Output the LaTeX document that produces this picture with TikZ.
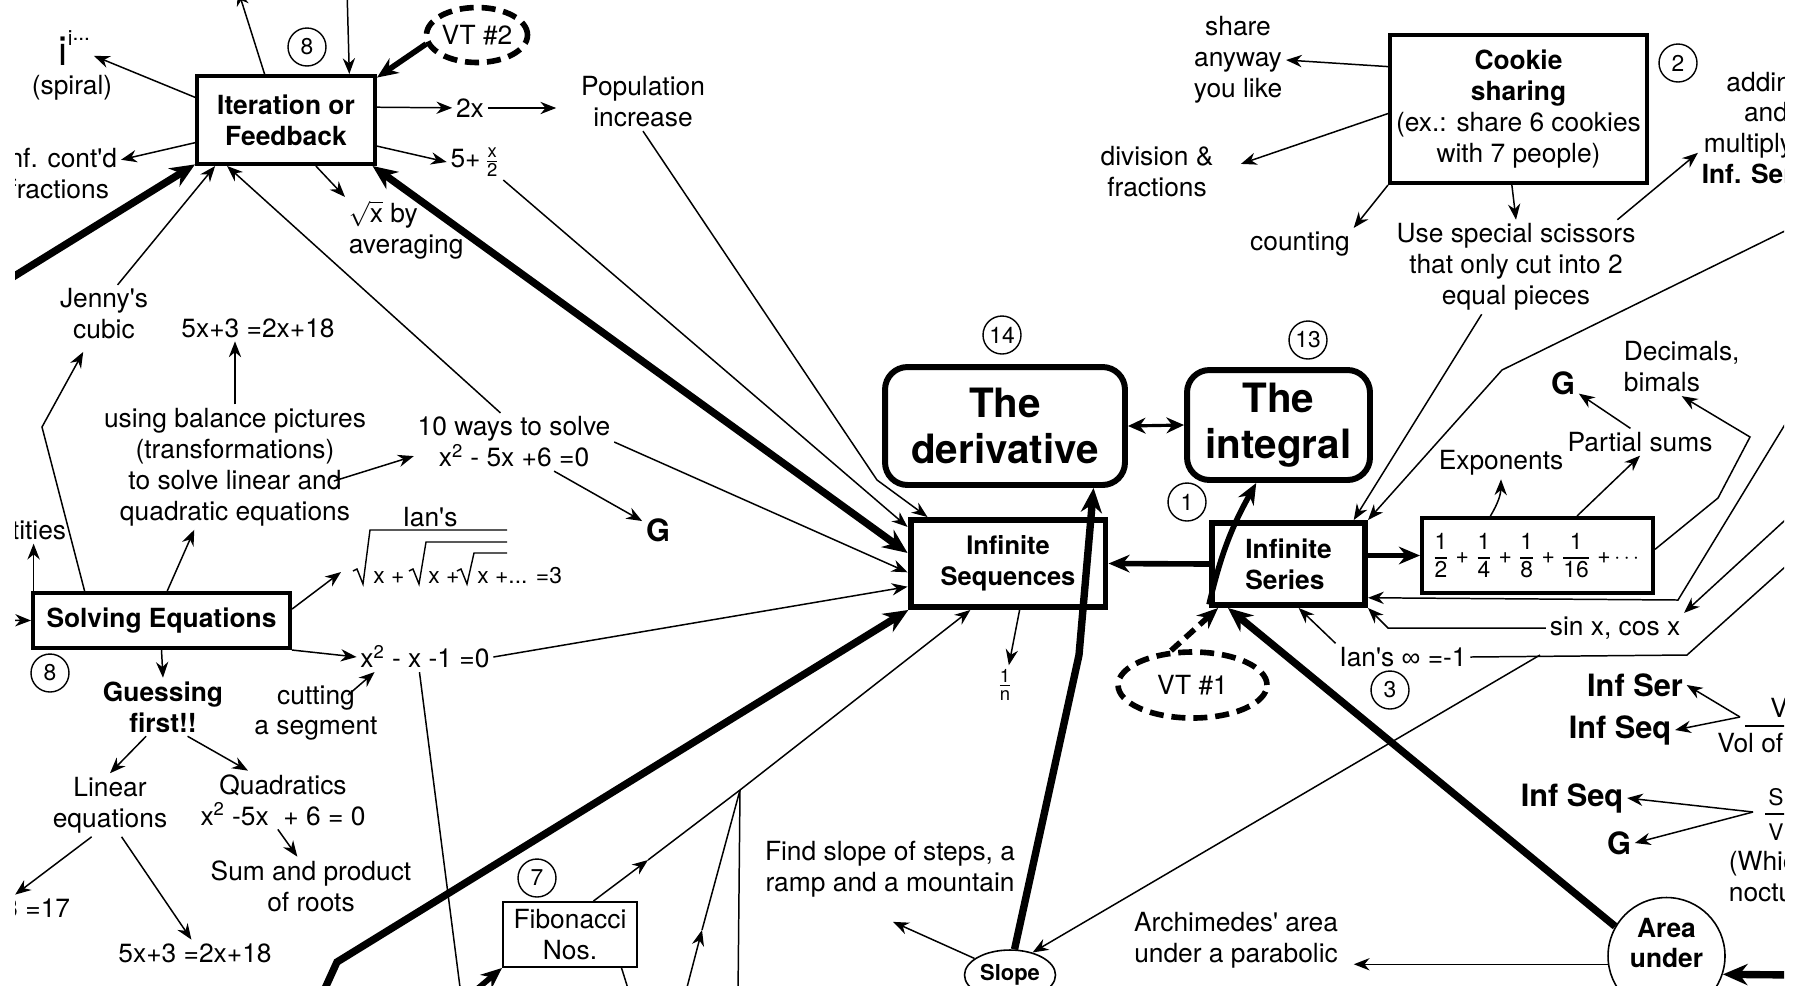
\documentclass[tikz,border=0pt]{standalone}
\usepackage{amsmath}
\usepackage{fontspec}
\setmainfont{TeX Gyre Heros}[Ligatures=TeXOff]
\newfontfamily\glyphs{Liberation Sans}
\usetikzlibrary{arrows.meta,shapes.geometric,calc}
\newcommand{\fsz}{\fontsize{15}{17.6}\selectfont}
\newcommand{\stk}[2]{$\genfrac{}{}{0.6pt}{}{\text{#1}}{\text{#2}}$}
\newcommand{\bigfr}[2]{$\genfrac{}{}{0.6pt}{0}{\text{#1}}{\text{#2}}$}
\begin{document}
\begin{tikzpicture}[x=0.02cm, y=-0.02cm,
  every node/.style={font=\fsz},
  txt/.style={align=center, inner sep=2pt},
  bld/.style={txt, font=\fsz\bfseries},
  big/.style={txt, font=\bfseries\fontsize{17.5}{20}\selectfont},
  rad/.style={inner sep=0pt, font=\fontsize{13}{13}\selectfont},
  box/.style={draw, line width=2.3pt, align=center, inner sep=0pt, font=\fsz\bfseries},
  topic/.style={draw, line width=3.4pt, rounded corners=0.45cm, align=center, inner sep=0pt, font=\bfseries\fontsize{23}{26}\selectfont},
  num/.style={circle, draw, line width=0.8pt, minimum size=0.76cm, inner sep=0pt, font=\fontsize{13}{13}\selectfont},
  vt/.style={ellipse, draw, line width=3.2pt, dash pattern=on 8pt off 4.5pt, inner sep=0pt},
  arr/.style={-{Stealth[length=9pt,width=7pt]}, line width=0.85pt},
  mid/.style={-{Stealth[length=12pt,width=10pt]}, line width=3.2pt},
  fat/.style={-{Stealth[length=14pt,width=12pt]}, line width=4.2pt},
  fatboth/.style={{Stealth[length=14pt,width=12pt]}-{Stealth[length=14pt,width=12pt]}, line width=4.2pt},
  both/.style={{Stealth[length=10pt,width=9pt]}-{Stealth[length=10pt,width=9pt]}, line width=1.8pt}
]
\useasboundingbox (0,0) rectangle (1801,985);
\clip (15,0) rectangle (1784,985);

% Iteration corner
\node[box, minimum width=3.56cm, minimum height=1.76cm] (iter) at (286,120) {Iteration or\\Feedback};
\node[num] (n8a) at (307,47) {8};
\node[vt, minimum width=2.02cm, minimum height=1.1cm] (vt2) at (477,35) {VT \#2};
\node[txt, anchor=base west] (ii) at (55,65) {\fontsize{23}{23}\selectfont i\raisebox{11pt}{\fontsize{12}{12}\selectfont i\raisebox{3pt}{...}}};
\node[txt] (spiral) at (72,88) {(spiral)};
\node[txt, anchor=east] (infcf) at (121,174) {Inf. cont'd\\fractions};
\node[txt] (twox) at (470,108) {2x};
\node[txt] (pop) at (643,102) {Population\\increase};
\node[txt] (fivex) at (475,162) {5+\,\stk{x}{2}};
\node[txt, align=left, anchor=west] (sqrtx) at (345,230) {$\sqrt{\text{x}}$ by\\averaging};

% Solving equations
\node[txt] (jenny) at (104,314) {Jenny's\\cubic};
\node[txt] (eqA) at (258,328) {5x+3 =2x+18};
\node[txt] (balance) at (235,467) {using balance pictures\\(transformations)\\to solve linear and\\quadratic equations};
\node[txt] (tenways) at (514,442) {10 ways to solve\\x\textsuperscript{2} - 5x +6 =0};
\node[big] (gA) at (658,530) {G};
\node[txt, anchor=east] (ident) at (70,530) {Identities};
\node[box, minimum width=5.14cm, minimum height=1.1cm] (solve) at (161.5,620.5) {Solving Equations};
\node[txt] (ians) at (430,517) {Ian's};
\node[rad, anchor=base west] (radA) at (373,583) {x +};
\node[rad, anchor=base west] (radB) at (428,583) {x +};
\node[rad, anchor=base west] (radC) at (477,583) {x +... =3};
\draw[line width=0.8pt] (353,571) -- (357,569) -- (363,584) -- (370,530) -- (507,530);
\draw[line width=0.8pt] (409,571) -- (413,569) -- (419,584) -- (426,542) -- (507,542);
\draw[line width=0.8pt] (457,571) -- (461,569) -- (467,584) -- (474,553) -- (507,553);
\node[txt] (xsq) at (425,657) {x\textsuperscript{2} - x -1 =0};
\node[num] (n8b) at (50,673) {8};
\node[bld] (guess) at (163,707) {Guessing\\first!!};
\node[txt] (cutting) at (316,713) {cutting\\a segment};
\node[txt] (linear) at (110,805) {Linear\\equations};
\node[txt] (quad) at (283,800) {Quadratics\\x\textsuperscript{2} -5x \ + 6 = 0};
\node[txt] (sumprod) at (311,886) {Sum and product\\of roots};
\node[txt, anchor=east] (eqC) at (74,908) {2x+3 =17};
\node[txt] (eqB) at (195,953) {5x+3 =2x+18};
\node[num] (n7) at (537,878) {7};
\node[draw, line width=1.1pt, minimum width=2.68cm, minimum height=1.3cm, align=center, inner sep=0pt] (fib) at (570,934.5) {Fibonacci\\Nos.};

% Centre
\node[topic, minimum width=4.8cm, minimum height=2.36cm] (deriv) at (1005,426) {The\\derivative};
\node[topic, minimum width=3.66cm, minimum height=2.2cm] (integ) at (1278.5,425) {The\\integral};
\node[num] (n14) at (1002,335) {14};
\node[num] (n13) at (1308,340) {13};
\node[num] (n1) at (1187,502) {1};
\node[box, line width=3.4pt, minimum width=3.9cm, minimum height=1.74cm, font=\bfseries\fontsize{14.5}{17.6}\selectfont] (seq) at (1008,563.5) {Infinite\\Sequences};
\node[box, line width=3.4pt, minimum width=3.06cm, minimum height=1.64cm, align=left] (ser) at (1288.5,564) {Infinite\\Series};
\node[txt] (onen) at (1005,685) {\stk{1}{n}};
\node[vt, minimum width=2.98cm, minimum height=1.32cm] (vt1) at (1192.5,685) {VT \#1};
\node[ellipse, draw, line width=0.9pt, minimum width=1.82cm, minimum height=1cm, inner sep=0pt, font=\bfseries\fontsize{12.5}{12.5}\selectfont] (slope) at (1010,975) {Slope};
\node[txt] (findslope) at (890,869) {Find slope of steps, a\\ramp and a mountain};
\node[txt] (archi) at (1236,940) {Archimedes' area\\under a parabolic};
\node[circle, draw, line width=0.9pt, minimum size=2.34cm, inner sep=0pt] (area) at (1666.5,956) {};
\node[bld] (areatxt) at ($(area.center)+(0,-13)$) {Area\\under};

% Cookie corner
\node[txt] (share) at (1238,60) {share\\anyway\\you like};
\node[txt] (divfrac) at (1157,172) {division \&\\fractions};
\node[txt] (counting) at (1300,244) {counting};
\node[draw, line width=2.3pt, minimum width=5.14cm, minimum height=2.96cm, align=center, inner sep=0pt] (cookie) at (1518.5,109) {\textbf{Cookie}\\\textbf{sharing}\\(ex.: share 6 cookies\\with 7 people)};
\node[num] (n2) at (1678,63) {2};
\node[txt] (scissors) at (1516,267) {Use special scissors\\that only cut into 2\\equal pieces};
\node[txt] (adding) at (1766,128) {adding\\and\\multiplying\\\textbf{Inf. Series}};

% Series corner
\node[big] (gB) at (1563,383) {G};
\node[txt, align=left, anchor=west] (decimals) at (1620,367) {Decimals,\\bimals};
\node[txt] (partial) at (1640,442) {Partial sums};
\node[txt] (expo) at (1501,463) {Exponents};
\node[draw, line width=2.3pt, minimum width=4.62cm, minimum height=1.5cm, inner sep=0pt, font=\fontsize{13}{13}\selectfont] (geo) at (1537.5,555.5) {\bigfr{1}{2} + \bigfr{1}{4} + \bigfr{1}{8} + \bigfr{1}{16} +\,$\cdots$};
\node[txt] (sincos) at (1615,628) {sin x, cos x};
\node[txt] (ianinf) at (1403,657) {Ian's {\glyphs ∞} =-1};
\node[num] (n3) at (1390,690) {3};
\node[big] (serB) at (1635,685) {Inf Ser};
\node[big] (seqB) at (1620,730) {Inf Seq};
\node[big] (seqC) at (1572,798) {Inf Seq};
\node[big] (gC) at (1619,843) {G};
\node[txt, anchor=west, inner sep=0pt] (volnum) at (1770,708) {Vol};
\node[txt, anchor=west, inner sep=0pt] (volden) at (1717,743) {Vol of};
\draw[line width=0.8pt] (1745,726) -- (1800,726);
\node[rad, anchor=west] (snum) at (1768,797) {S};
\node[rad, anchor=west] (sden) at (1768,832) {V};
\draw[line width=0.8pt] (1765,814) -- (1800,814);
\node[txt, anchor=west, align=left] (which) at (1725,877) {(Which\\nocturnal};

% Arrows round Iteration
\coordinate (upend) at (238,-10);
\coordinate (downstart) at (347,-10);
\coordinate (leftthick) at (0,285);
\draw[arr] (iter.166) -- (ii);
\draw[arr] (iter.115) -- (upend);
\draw[arr] (downstart) -- (iter.36);
\draw[mid] (vt2.190) -- (iter.25);
\draw[arr] (iter.8) -- (twox);
\draw[arr, shorten >=0.42cm] (twox.east) -- (twox.east -| pop.west);
\draw[arr] (iter.-16) -- (fivex.west);
\draw[arr] (iter.-57) -- (sqrtx.north west);
\draw[arr] (iter.194) -- (infcf);
\draw[fat] (leftthick) -- (iter.206);
\draw[arr] (jenny.65) -- (iter.213);
\draw[arr] (tenways.115) -- (iter.218);
\draw[fatboth] (iter.-28) -- (seq.174);

% Into Infinite Sequences
\coordinate (popbend) at (877,480);
\coordinate (thickstart) at (322,995);
\coordinate (thickbend) at (337,962);
\draw[arr] (pop.south) -- (popbend) -- (seq.150);
\draw[arr] (fivex.south east) -- (seq.160);
\draw[arr] (tenways.east) -- (seq.185);
\draw[arr] (xsq.east) -- (seq.193);
\draw[fat] (thickstart) -- (thickbend) -- (seq.205);

% Fibonacci junction
\coordinate (fibj) at (740,790);
\coordinate (fibmid) at (648,860);
\coordinate (lowstart) at (685,995);
\coordinate (lowmid) at (702,930);
\coordinate (vdown) at (738,995);
\coordinate (fibin) at (470,995);
\coordinate (fibout) at (630,995);
\draw[arr] (fib.55) -- (fibmid);
\draw[line width=0.85pt] (fibmid) -- (fibj);
\draw[arr] (lowstart) -- (lowmid);
\draw[line width=0.85pt] (lowmid) -- (fibj);
\draw[line width=0.85pt] (fibj) -- (vdown);
\draw[arr] (fibj) -- (seq.231);
\draw[mid] (fibin) -- (fib.south west);
\draw[line width=0.85pt] (fib.-33) -- (fibout);

% Centre links
\coordinate (slopebend) at (1079,655);
\draw[arr] (seq.-76) -- (onen);
\draw[fat] (slope.80) -- (slopebend) -- (deriv.-35);
\draw[mid] (ser.west) -- (seq.east);
\draw[mid] (ser.207) to[bend left=8] (integ.249);
\draw[both] (deriv.east) -- (integ.west);
\draw[mid, dash pattern=on 7pt off 4pt] (vt1.122) -- (ser.212);
\draw[fat] (area.150) -- (ser.216);
\draw[arr] (ianinf.north west) -- (ser.-77);

% Right side links
\coordinate (rA) at (1795,226);
\coordinate (rAbend) at (1502,370);
\coordinate (rB) at (1795,408);
\coordinate (rBbend) at (1678,600);
\coordinate (rC) at (1795,511);
\coordinate (rD) at (1795,558);
\coordinate (rDbend) at (1687,655);
\coordinate (rE) at (1795,975);
\coordinate (sinbend) at (1388,628);
\coordinate (slj) at (1540,655);
\draw[arr] (scissors.234) -- (ser.34);
\draw[arr] (rA) -- (rAbend) -- (ser.north east);
\draw[arr] (rB) -- (rBbend) -- (ser.-23);
\draw[arr] (sincos.west) -- (sinbend) -- (ser.south east);
\draw[arr] (rC) -- (sincos.north east);
\draw[line width=0.85pt] (rD) -- (rDbend) -- (ianinf.east);
\draw[arr] (slj) -- (slope.45);
\draw[arr] (slope.155) -- ($(findslope.south)+(3,21)$);
\draw[arr, shorten >=0.24cm] (area.188) -- (area.188 -| archi.east);
\draw[fat] (rE) -- (area.-18);

% Cookie links
\draw[arr] (cookie.162) -- (share.east);
\draw[arr, shorten >=0.5cm] (cookie.182) -- (divfrac.east);
\draw[arr] (cookie.south west) -- (counting.north east);
\draw[arr] (cookie.-95) -- (scissors.north);
\draw[arr] (scissors.25) -- (adding.200);

% Series box links
\coordinate (dA) at (1718,498);
\coordinate (dB) at (1750,437);
\draw[arr] (partial.125) -- (gB);
\draw[arr] (geo.140) to[bend right=15] (expo.south);
\draw[arr] (geo.45) -- (partial.south);
\draw[arr] (geo.3) -- (dA) -- (dB) -- (decimals.south);
\draw[mid] (ser.east |- geo.west) -- (geo.west);
\coordinate (volfork) at (1740,717);
\coordinate (sfork) at (1753,812);
\draw[arr] (volfork) -- (serB.east);
\draw[arr] (volfork) -- (seqB.east);
\draw[arr] (sfork) -- (seqC.east);
\draw[arr] (sfork) -- (gC.east);

% Solving links
\coordinate (leftin) at (0,620);
\coordinate (jbend) at (42,427);
\coordinate (xdown) at (461,995);
\draw[arr] (leftin) -- (solve.west);
\draw[arr, shorten >=0.2cm] (solve.159) -- (jbend) -- (jenny);
\draw[arr] (solve.167) -- (solve.167 |- ident.south);
\draw[arr] (solve.79) -- (balance.237);
\draw[arr] (balance.north) -- (balance.north |- eqA.south);
\draw[arr] ($(balance.east)+(-36,14)$) -- (tenways.188);
\draw[arr] (tenways.-36) -- (gA);
\draw[arr] (solve.5) -- ($(radA.west)+(-32,-5)$);
\draw[arr] (solve.south east) -- (xsq.west);
\draw[arr] (solve.south) -- (guess.north);
\draw[arr] ($(cutting.center)+(32,-18)$) -- ($(xsq.west)+(18,15)$);
\draw[arr] (guess.240) -- (linear.north);
\draw[arr] (guess.-50) -- (quad.140);
\draw[arr] (quad.260) -- (sumprod.115);
\draw[arr] (linear.240) -- (eqC.north);
\draw[arr] (linear.-70) -- (eqB.105);
\draw[line width=0.85pt] (xsq.250) -- (xdown);
\end{tikzpicture}
\end{document}
